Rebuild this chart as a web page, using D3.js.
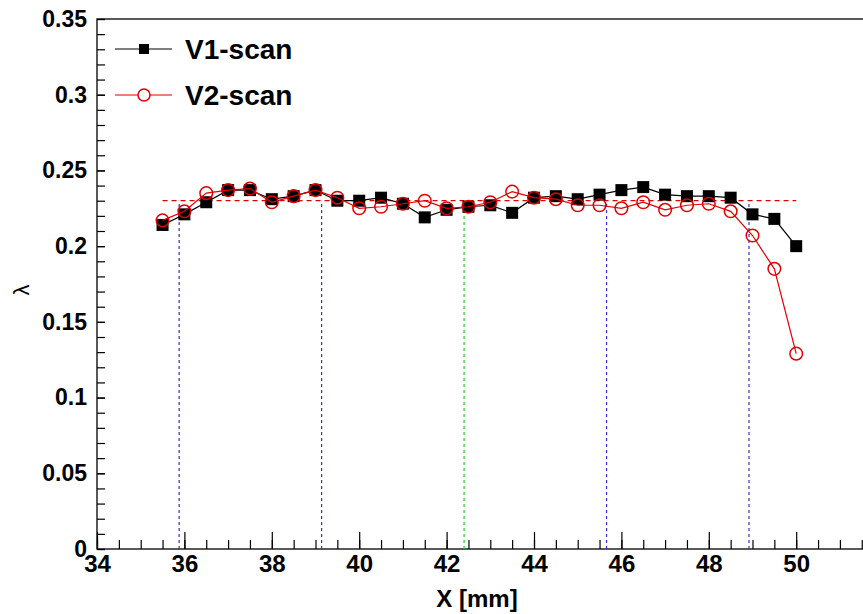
<!DOCTYPE html>
<html>
<head>
<meta charset="utf-8">
<script src="https://cdn.jsdelivr.net/npm/d3@7"></script>
<style>
  body { margin: 0; background: #fff; }
  svg { display: block; }
</style>
</head>
<body>
<div id="chart"></div>
<script>
// scan positions [mm]
var xPos = [35.5, 36, 36.5, 37, 37.5, 38, 38.5, 39, 39.5, 40, 40.5, 41, 41.5, 42, 42.5,
            43, 43.5, 44, 44.5, 45, 45.5, 46, 46.5, 47, 47.5, 48, 48.5, 49, 49.5, 50];

var v1 = [0.214, 0.221, 0.229, 0.237, 0.237, 0.231, 0.233, 0.237, 0.230, 0.230,
          0.232, 0.228, 0.219, 0.224, 0.226, 0.227, 0.222, 0.232, 0.233, 0.231,
          0.234, 0.237, 0.239, 0.234, 0.233, 0.233, 0.232, 0.221, 0.218, 0.200];

var v2 = [0.217, 0.223, 0.235, 0.237, 0.238, 0.229, 0.233, 0.237, 0.232, 0.225,
          0.226, 0.228, 0.230, 0.225, 0.226, 0.229, 0.236, 0.232, 0.231, 0.227,
          0.227, 0.225, 0.229, 0.224, 0.227, 0.228, 0.223, 0.207, 0.185, 0.129];

var seriesNames = ["V1-scan", "V2-scan"];
var meanLevel = 0.23, meanRange = [35.5, 50];
var blueCuts = [35.88, 39.14, 45.66, 48.92];
var greenCut = [42.40];

var xMajor = d3.range(34, 51, 2);
var yMajor = d3.range(0, 0.351, 0.05);

var W = 863, H = 614;
var padL = 97, padT = 19, padB = 549;

var x = d3.scaleLinear().domain([34, 52]).range([padL, padL + 18 * 43.7]);
var y = d3.scaleLinear().domain([0, 0.35]).range([padB, padT]);

var svg = d3.select("#chart").append("svg")
    .attr("width", W).attr("height", H)
    .style("font-family", "'Liberation Sans', Arial, sans-serif");

svg.append("rect").attr("width", W).attr("height", H).attr("fill", "#fff");

/* frame */
svg.append("rect")
  .attr("x", x(34)).attr("y", y(0.35))
  .attr("width", x(52) - x(34)).attr("height", y(0) - y(0.35))
  .attr("fill", "none").attr("stroke", "#000").attr("stroke-width", 1.3);

/* minor ticks */
svg.append("g")
  .attr("transform", "translate(0," + padB + ")")
  .call(d3.axisBottom(x).ticks(36).tickSize(-9).tickFormat(""))
  .call(function(g){ g.select(".domain").remove(); });

svg.append("g")
  .attr("transform", "translate(" + padL + ",0)")
  .call(d3.axisLeft(y).ticks(35).tickSize(-8).tickFormat(""))
  .call(function(g){ g.select(".domain").remove(); });

/* major ticks + labels */
var xa = svg.append("g")
  .attr("transform", "translate(0," + padB + ")")
  .call(d3.axisBottom(x).tickValues(xMajor).tickSize(-17).tickPadding(6).tickFormat(d3.format("d")));
xa.select(".domain").remove();
xa.selectAll("text").style("font-size", "24px").style("font-weight", "bold").attr("fill", "#000");

var ya = svg.append("g")
  .attr("transform", "translate(" + padL + ",0)")
  .call(d3.axisLeft(y).tickValues(yMajor).tickSize(-8).tickPadding(10)
        .tickFormat(function(d){ return +d.toFixed(2) + ""; }));
ya.select(".domain").remove();
ya.selectAll("text").style("font-size", "23px").style("font-weight", "bold").attr("fill", "#000");

svg.selectAll(".tick line").attr("stroke", "#000").attr("stroke-width", 1.2);

/* axis titles */
svg.append("text")
  .attr("x", 477).attr("y", 607)
  .attr("text-anchor", "middle")
  .style("font-size", "24px").style("font-weight", "bold")
  .text("X [mm]");

svg.append("text")
  .attr("transform", "translate(29,290) rotate(-90)")
  .attr("text-anchor", "middle")
  .style("font-size", "22px")
  .text("λ");

/* reference lines */
svg.append("line")
  .attr("x1", x(meanRange[0])).attr("x2", x(meanRange[1]))
  .attr("y1", y(meanLevel)).attr("y2", y(meanLevel))
  .attr("stroke", "#e00000").attr("stroke-width", 1.2).attr("stroke-dasharray", "5,4");

svg.selectAll(".bcut").data(blueCuts).enter().append("line")
  .attr("x1", x).attr("x2", x)
  .attr("y1", y(0)).attr("y2", y(meanLevel))
  .attr("stroke", "#3030d0").attr("stroke-width", 1.2).attr("stroke-dasharray", "3,3");

svg.selectAll(".gcut").data(greenCut).enter().append("line")
  .attr("x1", x).attr("x2", x)
  .attr("y1", y(0)).attr("y2", y(meanLevel))
  .attr("stroke", "#20d020").attr("stroke-width", 1.2).attr("stroke-dasharray", "3,3");

/* series */
var line = d3.line().x(function(d){ return x(d[0]); }).y(function(d){ return y(d[1]); });
var s1 = d3.zip(xPos, v1), s2 = d3.zip(xPos, v2);

svg.append("path").datum(s1).attr("d", line)
  .attr("fill", "none").attr("stroke", "#000").attr("stroke-width", 1.2);
svg.selectAll(".sq").data(s1).enter().append("rect")
  .attr("x", function(d){ return x(d[0]) - 6; })
  .attr("y", function(d){ return y(d[1]) - 6; })
  .attr("width", 12).attr("height", 12).attr("fill", "#000");

svg.append("path").datum(s2).attr("d", line)
  .attr("fill", "none").attr("stroke", "#e00000").attr("stroke-width", 1.2);
svg.selectAll(".ci").data(s2).enter().append("circle")
  .attr("cx", function(d){ return x(d[0]); })
  .attr("cy", function(d){ return y(d[1]); })
  .attr("r", 6.3).attr("fill", "none").attr("stroke", "#e00000").attr("stroke-width", 1.5);

/* legend */
var leg = svg.append("g");
var ly = [49, 95];
leg.append("line").attr("x1", 115).attr("x2", 172).attr("y1", ly[0]).attr("y2", ly[0])
  .attr("stroke", "#000").attr("stroke-width", 1.2);
leg.append("rect").attr("x", 144 - 5).attr("y", ly[0] - 5).attr("width", 10).attr("height", 10).attr("fill", "#000");
leg.append("line").attr("x1", 115).attr("x2", 172).attr("y1", ly[1]).attr("y2", ly[1])
  .attr("stroke", "#e00000").attr("stroke-width", 1.2);
leg.append("circle").attr("cx", 144).attr("cy", ly[1]).attr("r", 6)
  .attr("fill", "#fff").attr("stroke", "#e00000").attr("stroke-width", 1.5);
leg.selectAll(".lt").data(seriesNames).enter().append("text")
  .attr("x", 185).attr("y", function(d, i){ return ly[i] + 10; })
  .style("font-size", "28px").style("font-weight", "bold")
  .text(function(d){ return d; });
</script>
</body>
</html>
